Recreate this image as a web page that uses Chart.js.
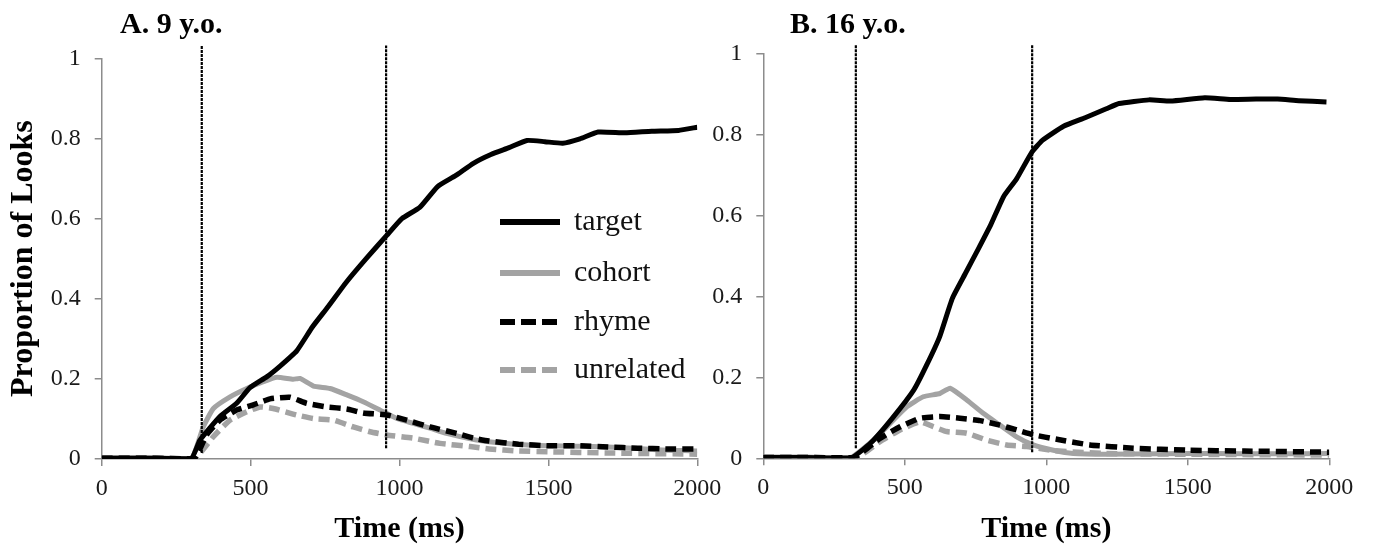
<!DOCTYPE html>
<html>
<head>
<meta charset="utf-8">
<script src="https://cdn.jsdelivr.net/npm/chart.js@4"></script>
<style>
    body { margin: 0; background: #fff; }
    #wrap { position: relative; width: 1373px; height: 550px; overflow: hidden; }
    canvas { position: absolute; top: 0; }
    #chartA { left: 0; }
    #chartB { left: 690px; }
</style>
</head>
<body>
<div id="wrap">
    <canvas id="chartA" width="740" height="550"></canvas>
    <canvas id="chartB" width="683" height="550"></canvas>
</div>
<script>
// ---- panel A: 9 y.o. ----
const timeA_target = [0, 150, 300, 330, 397, 453, 498, 554, 599, 655, 708, 760, 820, 888, 957, 1008, 1068, 1128, 1188, 1248, 1307, 1368, 1428, 1488, 1548, 1606, 1667, 1757, 1847, 1937, 2000];
const A_target = [0.002, 0.002, 0.001, 0.047, 0.106, 0.139, 0.178, 0.205, 0.232, 0.27, 0.33, 0.38, 0.44, 0.5, 0.558, 0.6, 0.628, 0.68, 0.707, 0.738, 0.76, 0.777, 0.795, 0.792, 0.788, 0.799, 0.816, 0.814, 0.818, 0.82, 0.828];
const timeA_cohort = [0, 150, 300, 341, 375, 431, 487, 543, 588, 643, 666, 711, 767, 823, 878, 935, 991, 1046, 1102, 1158, 1259, 1300, 1400, 1500, 1600, 1700, 1800, 1900, 2000];
const A_cohort = [0.003, 0.003, 0.001, 0.08, 0.126, 0.155, 0.176, 0.193, 0.204, 0.199, 0.201, 0.182, 0.176, 0.16, 0.143, 0.122, 0.101, 0.089, 0.077, 0.064, 0.047, 0.043, 0.036, 0.033, 0.032, 0.03, 0.026, 0.022, 0.02];
const timeA_rhyme = [0, 150, 310, 352, 397, 453, 509, 565, 632, 688, 755, 823, 878, 957, 1024, 1102, 1192, 1248, 1300, 1400, 1500, 1600, 1700, 1800, 1900, 2000];
const A_rhyme = [0.002, 0.002, 0.001, 0.06, 0.097, 0.122, 0.135, 0.15, 0.154, 0.139, 0.13, 0.125, 0.115, 0.11, 0.097, 0.08, 0.064, 0.052, 0.045, 0.037, 0.033, 0.033, 0.03, 0.027, 0.025, 0.025];
const timeA_unrelated = [0, 150, 310, 375, 431, 487, 532, 576, 654, 711, 778, 845, 901, 957, 1046, 1136, 1237, 1300, 1400, 1500, 1700, 2000];
const A_unrelated = [0.002, 0.002, 0.001, 0.056, 0.097, 0.118, 0.13, 0.126, 0.11, 0.101, 0.097, 0.08, 0.068, 0.06, 0.052, 0.039, 0.031, 0.025, 0.02, 0.018, 0.015, 0.012];
const markersA = [336, 955];
const markerLowA = [0.015, 0.027];
const markerHighA = 1.032;

// ---- panel B: 16 y.o. ----
const timeB_target = [0, 150, 310, 381, 457, 532, 577, 623, 668, 713, 759, 804, 849, 895, 948, 986, 1061, 1137, 1212, 1257, 1363, 1439, 1560, 1650, 1741, 1817, 1892, 1990];
const B_target = [0.002, 0.002, 0.001, 0.039, 0.1, 0.169, 0.23, 0.3, 0.395, 0.455, 0.516, 0.577, 0.646, 0.69, 0.755, 0.785, 0.82, 0.841, 0.863, 0.876, 0.885, 0.882, 0.89, 0.886, 0.887, 0.887, 0.883, 0.88];
const timeB_cohort = [0, 150, 306, 389, 448, 507, 565, 624, 660, 719, 777, 836, 895, 954, 1025, 1095, 1213, 1400, 1600, 1800, 2000];
const B_cohort = [0.003, 0.003, 0.001, 0.045, 0.086, 0.127, 0.152, 0.16, 0.173, 0.144, 0.111, 0.082, 0.053, 0.033, 0.02, 0.012, 0.01, 0.011, 0.012, 0.011, 0.012];
const timeB_rhyme = [0, 150, 320, 412, 483, 554, 624, 695, 766, 836, 895, 954, 1037, 1154, 1307, 1500, 1700, 2000];
const B_rhyme = [0.002, 0.002, 0.002, 0.049, 0.078, 0.099, 0.103, 0.099, 0.093, 0.082, 0.07, 0.058, 0.047, 0.033, 0.025, 0.02, 0.018, 0.015];
const timeB_unrelated = [0, 150, 330, 412, 483, 554, 601, 648, 719, 789, 860, 931, 1025, 1200, 1500, 2000];
const B_unrelated = [0.002, 0.002, 0.002, 0.041, 0.07, 0.09, 0.078, 0.066, 0.062, 0.045, 0.033, 0.029, 0.019, 0.012, 0.01, 0.008];
const markersB = [327, 950];
const markerLowB = [0.025, 0.015];
const markerHighB = 1.02;

const seriesNames = ['target', 'cohort', 'rhyme', 'unrelated'];
const xTicks = [0, 500, 1000, 1500, 2000];
const yTicks = [0, 0.2, 0.4, 0.6, 0.8, 1];

const SERIF = "'Liberation Serif', 'Times New Roman', serif";
const BLACK = '#000000';
const GREY = '#a3a3a3';
const AXIS = '#8c8c8c';

const seriesStyle = {
    target:    { color: BLACK, dash: [],      width: 5 },
    cohort:    { color: GREY,  dash: [],      width: 5 },
    rhyme:     { color: BLACK, dash: [11, 6], width: 5.5 },
    unrelated: { color: GREY,  dash: [11, 6], width: 5.5 }
};

function pts(xs, ys) {
    return xs.map((x, i) => ({ x: x, y: ys[i] }));
}

function buildDatasets(times, values, markers, lows, high) {
    const sets = [];
    // draw order: unrelated under, target on top
    const order = { target: 1, rhyme: 2, cohort: 3, unrelated: 4 };
    seriesNames.forEach((name, i) => {
        const st = seriesStyle[name];
        sets.push({
            label: name,
            data: pts(times[i], values[i]),
            borderColor: st.color,
            borderWidth: st.width,
            borderDash: st.dash,
            pointRadius: 0,
            tension: 0.15,
            fill: false,
            order: order[name]
        });
    });
    markers.forEach((m, i) => {
        sets.push({
            label: 'marker',
            data: [{ x: m, y: lows[i] }, { x: m, y: high }],
            borderColor: BLACK,
            borderWidth: 2.2,
            borderDash: [3, 1],
            pointRadius: 0,
            clip: false,
            order: 0
        });
    });
    return sets;
}

// panel heading + legend drawn on top of the chart
function panelDecor(title, titleX, withLegend) {
    return {
        id: 'panelDecor',
        afterDraw(chart) {
            const ctx = chart.ctx;
            ctx.save();
            ctx.fillStyle = '#000';
            ctx.font = 'bold 30px ' + SERIF;
            ctx.textBaseline = 'middle';
            ctx.textAlign = 'left';
            ctx.fillText(title, titleX, 25);
            if (withLegend) {
                const rows = [222, 273, 322, 370];
                seriesNames.forEach((name, i) => {
                    const st = seriesStyle[name];
                    ctx.beginPath();
                    ctx.strokeStyle = st.color;
                    ctx.lineWidth = 6;
                    ctx.setLineDash(st.dash.length ? [15, 6] : []);
                    ctx.moveTo(500, rows[i]);
                    ctx.lineTo(560, rows[i]);
                    ctx.stroke();
                    ctx.setLineDash([]);
                    ctx.fillStyle = '#111';
                    ctx.font = '30px ' + SERIF;
                    ctx.fillText(name, 574, rows[i]);
                });
            }
            ctx.restore();
        }
    };
}

function makeOptions(yTitle, yWidth, xHeight, pad) {
    return {
        responsive: false,
        animation: false,
        layout: { padding: pad },
        plugins: {
            legend: { display: false },
            tooltip: { enabled: false }
        },
        scales: {
            x: {
                type: 'linear',
                min: 0,
                max: 2000,
                afterBuildTicks: (s) => { s.ticks = xTicks.map(v => ({ value: v })); },
                afterFit: (s) => { s.height = xHeight; },
                ticks: {
                    color: '#1a1a1a',
                    font: { family: SERIF, size: 24 },
                    padding: 8,
                    maxRotation: 0,
                    callback: (v) => String(v)
                },
                grid: { drawOnChartArea: false, drawTicks: true, tickLength: 7, color: AXIS, lineWidth: 1.5 },
                border: { display: true, color: AXIS, width: 1.5 },
                title: {
                    display: true,
                    text: 'Time (ms)',
                    color: '#000',
                    font: { family: SERIF, size: 30, weight: 'bold' },
                    padding: { top: 0, bottom: 3 }
                }
            },
            y: {
                type: 'linear',
                min: 0,
                max: 1,
                afterBuildTicks: (s) => { s.ticks = yTicks.map(v => ({ value: v })); },
                afterFit: (s) => { s.width = yWidth; },
                ticks: {
                    color: '#1a1a1a',
                    font: { family: SERIF, size: 24 },
                    padding: 14,
                    callback: (v) => String(+v.toFixed(1))
                },
                grid: { drawOnChartArea: false, drawTicks: true, tickLength: 7, color: AXIS, lineWidth: 1.5 },
                border: { display: true, color: AXIS, width: 1.5 },
                title: {
                    display: !!yTitle,
                    text: yTitle,
                    color: '#000',
                    font: { family: SERIF, size: 32, weight: 'bold' },
                    padding: { top: 5, bottom: 0 }
                }
            }
        }
    };
}

new Chart(document.getElementById('chartA').getContext('2d'), {
    type: 'line',
    data: {
        datasets: buildDatasets(
            [timeA_target, timeA_cohort, timeA_rhyme, timeA_unrelated],
            [A_target, A_cohort, A_rhyme, A_unrelated],
            markersA, markerLowA, markerHighA)
    },
    options: makeOptions('Proportion of Looks', 101.7, 91, { top: 58.3, left: 0, right: 42.7, bottom: 0 }),
    plugins: [panelDecor('A. 9 y.o.', 120, true)]
});

new Chart(document.getElementById('chartB').getContext('2d'), {
    type: 'line',
    data: {
        datasets: buildDatasets(
            [timeB_target, timeB_cohort, timeB_rhyme, timeB_unrelated],
            [B_target, B_cohort, B_rhyme, B_unrelated],
            markersB, markerLowB, markerHighB)
    },
    options: makeOptions('', 73.3, 91.7, { top: 53.3, left: 0, right: 43.7, bottom: 0 }),
    plugins: [panelDecor('B. 16 y.o.', 100, false)]
});
</script>
</body>
</html>
